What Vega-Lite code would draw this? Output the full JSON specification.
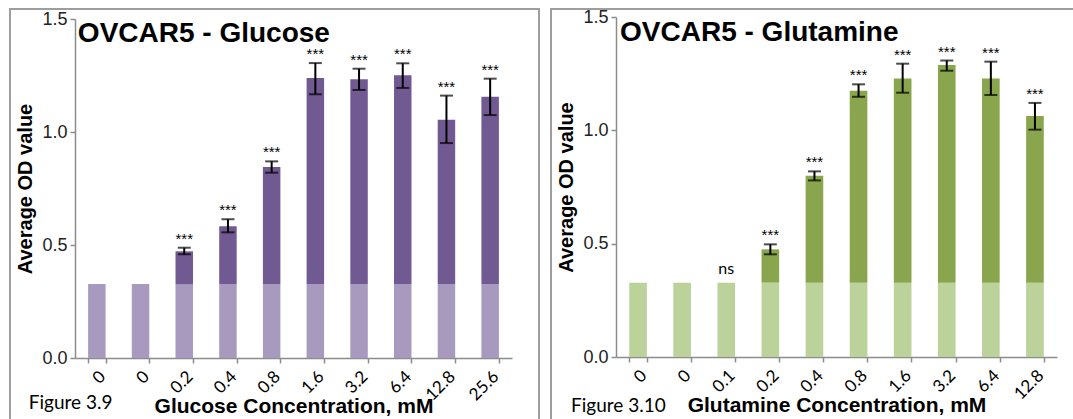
{
  "$schema": "https://vega.github.io/schema/vega-lite/v6.json",
  "background": "white",
  "padding": {"left": 8, "top": 7, "right": 0, "bottom": 0},
  "spacing": 9,
  "config": {
    "view": {"stroke": "#9e9e9e", "strokeWidth": 2},
    "axis": {
      "grid": false,
      "domainColor": "#8c8c8c",
      "domainWidth": 1.5,
      "tickColor": "#8c8c8c",
      "tickWidth": 1.5,
      "tickSize": 5,
      "titleColor": "#000",
      "titleFont": "Liberation Sans",
      "titleFontWeight": "bold",
      "titleFontSize": 20
    }
  },
  "hconcat": [
    {
      "width": 529,
      "height": 420,
      "data": {"values": [
        {"dose": "0#1", "ctrl": 0.327, "mean": 0.327, "lo": null, "hi": null, "sig": ""},
        {"dose": "0#2", "ctrl": 0.327, "mean": 0.327, "lo": null, "hi": null, "sig": ""},
        {"dose": "0.2", "ctrl": 0.327, "mean": 0.472, "lo": 0.459, "hi": 0.488, "sig": "***"},
        {"dose": "0.4", "ctrl": 0.327, "mean": 0.583, "lo": 0.556, "hi": 0.614, "sig": "***"},
        {"dose": "0.8", "ctrl": 0.327, "mean": 0.845, "lo": 0.820, "hi": 0.870, "sig": "***"},
        {"dose": "1.6", "ctrl": 0.327, "mean": 1.239, "lo": 1.167, "hi": 1.305, "sig": "***"},
        {"dose": "3.2", "ctrl": 0.327, "mean": 1.233, "lo": 1.186, "hi": 1.280, "sig": "***"},
        {"dose": "6.4", "ctrl": 0.327, "mean": 1.251, "lo": 1.195, "hi": 1.304, "sig": "***"},
        {"dose": "12.8", "ctrl": 0.327, "mean": 1.054, "lo": 0.951, "hi": 1.161, "sig": "***"},
        {"dose": "25.6", "ctrl": 0.327, "mean": 1.156, "lo": 1.075, "hi": 1.236, "sig": "***"}
      ]},
      "encoding": {
        "x": {
          "field": "dose", "type": "ordinal", "sort": null,
          "scale": {"range": [65, 502], "paddingInner": 0.6, "paddingOuter": 0.3},
          "axis": {
            "title": "Glucose Concentration, mM",
            "labelExpr": "split(datum.label, '#')[0]",
            "labelAngle": -45,
            "labelFont": "Lato",
            "labelFontSize": 17,
            "labelColor": "#000",
            "labelPadding": 5,
            "tickBand": "extent",
            "offset": -71,
            "titlePadding": -8,
            "titleFontSize": 21
          }
        }
      },
      "layer": [
        {
          "mark": {"type": "bar", "color": "#a899bf"},
          "encoding": {
            "y": {
              "field": "ctrl", "type": "quantitative", "title": "Average OD value",
              "scale": {"domain": [0, 1.5], "range": [349, 10], "nice": false},
              "axis": {
                "title": "Average OD value",
                "values": [0, 0.5, 1, 1.5],
                "format": ".1f",
                "offset": -65,
                "labelFont": "Liberation Sans",
                "labelFontSize": 18,
                "labelColor": "#222",
                "labelPadding": 3,
                "titlePadding": 6
              }
            }
          }
        },
        {
          "mark": {"type": "bar", "color": "#715a92"},
          "encoding": {
            "y": {"field": "ctrl", "type": "quantitative", "title": "Average OD value"},
            "y2": {"field": "mean"}
          }
        },
        {
          "transform": [{"filter": "isValid(datum.hi)"}],
          "mark": {"type": "errorbar", "ticks": true, "size": 13, "thickness": 2, "color": "#000"},
          "encoding": {
            "y": {"field": "lo", "type": "quantitative", "title": "Average OD value"},
            "y2": {"field": "hi"}
          }
        },
        {
          "transform": [{"filter": "datum.sig === '***'"}],
          "mark": {"type": "text", "baseline": "alphabetic", "dy": -4, "font": "Liberation Sans", "fontSize": 15, "color": "#000"},
          "encoding": {
            "y": {"field": "hi", "type": "quantitative", "title": "Average OD value"},
            "text": {"field": "sig"}
          }
        },
        {
          "data": {"values": [{"t": "OVCAR5 - Glucose"}]},
          "mark": {"type": "text", "align": "left", "baseline": "alphabetic", "dx": -19, "dy": 23, "font": "Liberation Sans", "fontWeight": "bold", "fontSize": 28, "color": "#000"},
          "encoding": {
            "x": {"datum": "0#1", "type": "ordinal"},
            "y": {"datum": 1.5, "type": "quantitative"},
            "text": {"field": "t"}
          }
        },
        {
          "data": {"values": [{"t": "Figure 3.9"}]},
          "mark": {"type": "text", "align": "left", "baseline": "alphabetic", "dx": -68, "dy": 51, "font": "Lato", "fontSize": 19, "color": "#000"},
          "encoding": {
            "x": {"datum": "0#1", "type": "ordinal"},
            "y": {"datum": 0, "type": "quantitative"},
            "text": {"field": "t"}
          }
        }
      ]
    },
    {
      "width": 529,
      "height": 420,
      "data": {"values": [
        {"dose": "0#1", "ctrl": 0.328, "mean": 0.328, "lo": null, "hi": null, "sig": ""},
        {"dose": "0#2", "ctrl": 0.328, "mean": 0.328, "lo": null, "hi": null, "sig": ""},
        {"dose": "0.1", "ctrl": 0.328, "mean": 0.328, "lo": null, "hi": null, "sig": "ns"},
        {"dose": "0.2", "ctrl": 0.328, "mean": 0.475, "lo": 0.453, "hi": 0.497, "sig": "***"},
        {"dose": "0.4", "ctrl": 0.328, "mean": 0.800, "lo": 0.779, "hi": 0.819, "sig": "***"},
        {"dose": "0.8", "ctrl": 0.328, "mean": 1.175, "lo": 1.148, "hi": 1.203, "sig": "***"},
        {"dose": "1.6", "ctrl": 0.328, "mean": 1.229, "lo": 1.166, "hi": 1.294, "sig": "***"},
        {"dose": "3.2", "ctrl": 0.328, "mean": 1.288, "lo": 1.263, "hi": 1.308, "sig": "***"},
        {"dose": "6.4", "ctrl": 0.328, "mean": 1.229, "lo": 1.156, "hi": 1.303, "sig": "***"},
        {"dose": "12.8", "ctrl": 0.328, "mean": 1.063, "lo": 1.003, "hi": 1.121, "sig": "***"}
      ]},
      "encoding": {
        "x": {
          "field": "dose", "type": "ordinal", "sort": null,
          "scale": {"range": [65, 506], "paddingInner": 0.6, "paddingOuter": 0.3},
          "axis": {
            "title": "Glutamine Concentration, mM",
            "labelExpr": "split(datum.label, '#')[0]",
            "labelAngle": -45,
            "labelFont": "Lato",
            "labelFontSize": 17,
            "labelColor": "#000",
            "labelPadding": 5,
            "tickBand": "extent",
            "offset": -72,
            "titlePadding": -8,
            "titleFontSize": 21
          }
        }
      },
      "layer": [
        {
          "mark": {"type": "bar", "color": "#bcd29b"},
          "encoding": {
            "y": {
              "field": "ctrl", "type": "quantitative", "title": "Average OD value",
              "scale": {"domain": [0, 1.5], "range": [348, 8], "nice": false},
              "axis": {
                "title": "Average OD value",
                "values": [0, 0.5, 1, 1.5],
                "format": ".1f",
                "offset": -65,
                "labelFont": "Liberation Sans",
                "labelFontSize": 18,
                "labelColor": "#222",
                "labelPadding": 3,
                "titlePadding": 6
              }
            }
          }
        },
        {
          "mark": {"type": "bar", "color": "#89a54e"},
          "encoding": {
            "y": {"field": "ctrl", "type": "quantitative", "title": "Average OD value"},
            "y2": {"field": "mean"}
          }
        },
        {
          "transform": [{"filter": "isValid(datum.hi)"}],
          "mark": {"type": "errorbar", "ticks": true, "size": 13, "thickness": 2, "color": "#000"},
          "encoding": {
            "y": {"field": "lo", "type": "quantitative", "title": "Average OD value"},
            "y2": {"field": "hi"}
          }
        },
        {
          "transform": [{"filter": "datum.sig === '***'"}],
          "mark": {"type": "text", "baseline": "alphabetic", "dy": -4, "font": "Liberation Sans", "fontSize": 15, "color": "#000"},
          "encoding": {
            "y": {"field": "hi", "type": "quantitative", "title": "Average OD value"},
            "text": {"field": "sig"}
          }
        },
        {
          "transform": [{"filter": "datum.sig === 'ns'"}],
          "mark": {"type": "text", "baseline": "alphabetic", "dy": -9, "font": "Lato", "fontSize": 16, "color": "#000"},
          "encoding": {
            "y": {"field": "mean", "type": "quantitative", "title": "Average OD value"},
            "text": {"field": "sig"}
          }
        },
        {
          "data": {"values": [{"t": "OVCAR5 - Glutamine"}]},
          "mark": {"type": "text", "align": "left", "baseline": "alphabetic", "dx": -18, "dy": 24, "font": "Liberation Sans", "fontWeight": "bold", "fontSize": 28, "color": "#000"},
          "encoding": {
            "x": {"datum": "0#1", "type": "ordinal"},
            "y": {"datum": 1.5, "type": "quantitative"},
            "text": {"field": "t"}
          }
        },
        {
          "data": {"values": [{"t": "Figure 3.10"}]},
          "mark": {"type": "text", "align": "left", "baseline": "alphabetic", "dx": -67, "dy": 55, "font": "Lato", "fontSize": 19, "color": "#000"},
          "encoding": {
            "x": {"datum": "0#1", "type": "ordinal"},
            "y": {"datum": 0, "type": "quantitative"},
            "text": {"field": "t"}
          }
        }
      ]
    }
  ]
}
